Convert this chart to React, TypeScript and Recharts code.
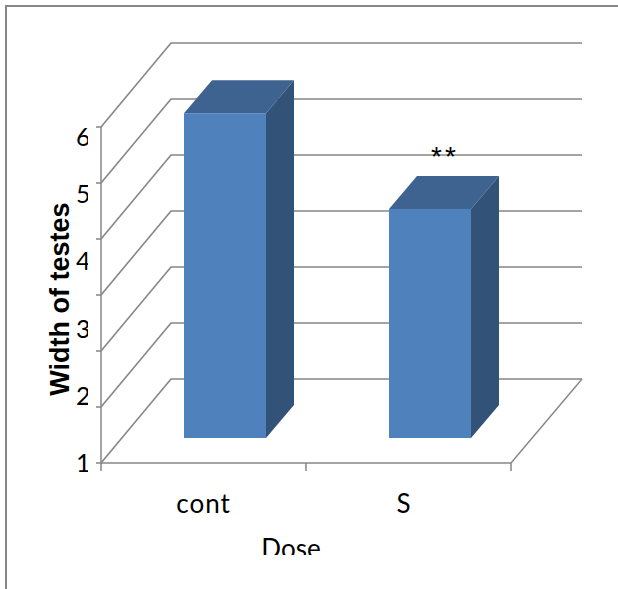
import { Bar, BarChart, CartesianGrid, LabelList, XAxis, YAxis } from "recharts"

// Dose groups and the values
const categories = ["cont", "S"]
const widthValues = [6.8, 5.09]
const marks = ["", "**"]

// ticks of the drawn axis, and the labels (which do not line up with the ticks in the source)
const gridTicks = [1, 2, 3, 4, 5, 6, 7]
const labelTicks = [1, 2, 3, 4, 5, 6]

const chartData = categories.map((dose, i) => ({ dose, width: widthValues[i], mark: marks[i] }))

const LINE = "#868686"
const FRONT = "#4f81bd"
const TOP = "#3f6390"
const SIDE = "#335277"
const FONT = "Lato, sans-serif"
const AXIS_BOTTOM = 463

// 3D look: wall depth, bar depth and how far the bar stands behind the front edge
const WALL_DX = 70
const WALL_DY = 84
const BAR_DX = 28
const BAR_DY = 33
const BAR_SHIFT_X = 21
const BAR_SHIFT_Y = 25

function WallLine(props: any) {
  const { x1, x2, y1 } = props
  const bx = x1 + WALL_DX
  const by = y1 - WALL_DY
  const isFloor = y1 > 460
  return (
    <g>
      <polyline
        points={`${x1},${y1} ${bx},${by} ${x2 + WALL_DX + 1},${by}`}
        fill="none"
        stroke={LINE}
        strokeWidth={1.6}
      />
      {isFloor && (
        <line x1={x2} y1={y1} x2={x2 + WALL_DX + 1} y2={by} stroke={LINE} strokeWidth={1.4} />
      )}
    </g>
  )
}

function Bar3D(props: any) {
  const { x, y, width, height } = props
  const fx = x + BAR_SHIFT_X
  const fy = y - BAR_SHIFT_Y
  const r = fx + width
  const b = fy + height
  return (
    <g>
      <polygon
        points={`${fx},${fy} ${fx + BAR_DX},${fy - BAR_DY} ${r + BAR_DX},${fy - BAR_DY} ${r},${fy}`}
        fill={TOP}
      />
      <polygon
        points={`${r},${fy} ${r + BAR_DX},${fy - BAR_DY} ${r + BAR_DX},${b - BAR_DY} ${r},${b}`}
        fill={SIDE}
      />
      <rect x={fx} y={fy} width={width} height={height} fill={FRONT} />
    </g>
  )
}

function DoseTick(props: any) {
  const { x, y, payload, index } = props
  const half = payload.offset ?? 102.5
  const nudge = index === 1 ? -5 : 0
  return (
    <g>
      {index === 0 && <line x1={x - half} y1={y - 8} x2={x - half} y2={y} stroke={LINE} strokeWidth={1.5} />}
      <line x1={x + half} y1={y - 8} x2={x + half} y2={y} stroke={LINE} strokeWidth={1.5} />
      <text
        x={x + nudge}
        y={513}
        textAnchor="middle"
        fontFamily={FONT}
        fontSize={26}
        letterSpacing={index === 0 ? 1 : 0}
        fill="#000"
      >
        {payload.value}
      </text>
    </g>
  )
}

// the labels sit on a 1-6 spread over the same height as the 1-7 ticks, as in the source
function ValueTick(props: any) {
  const { y, payload } = props
  if (!labelTicks.includes(payload.value)) return <g />
  const labelY = AXIS_BOTTOM - ((AXIS_BOTTOM - y) * 6) / 5
  const id = `value-clip-${payload.value}`
  return (
    <g>
      <clipPath id={id}>
        <rect x={70} y={100} width={18} height={400} />
      </clipPath>
      <text
        x={76}
        y={Math.max(labelY, 137) + 9}
        fontFamily={FONT}
        fontSize={25}
        fill="#000"
        clipPath={`url(#${id})`}
      >
        {payload.value}
      </text>
    </g>
  )
}

function DoseTitle() {
  return (
    <g>
      <clipPath id="dose-clip">
        <rect x={240} y={520} width={100} height={35} />
      </clipPath>
      <text x={291} y={558} textAnchor="middle" fontFamily={FONT} fontSize={26} fill="#000" clipPath="url(#dose-clip)">
        Dose
      </text>
    </g>
  )
}

function WidthTitle() {
  return (
    <text
      transform="translate(69,299) rotate(-90)"
      textAnchor="middle"
      fontFamily="'Liberation Sans', Arial, sans-serif"
      fontWeight="bold"
      fontSize={27}
      fill="#000"
    >
      Width of testes
    </text>
  )
}

function StarLabel(props: any) {
  const { x, y, value } = props
  if (!value) return null
  return (
    <text x={x + 77} y={y - 68} textAnchor="middle" fontFamily="'Liberation Sans', Arial, sans-serif" fontSize={28} letterSpacing={3} fill="#000">
      {value}
    </text>
  )
}

export default function App() {
  return (
    <div style={{ position: "absolute", left: 0, top: 0, width: 618, height: 589, background: "#fff", overflow: "hidden" }}>
      <div
        style={{
          position: "absolute",
          left: 5,
          top: 5,
          right: 0,
          bottom: 0,
          borderLeft: `2px solid ${LINE}`,
          borderTop: `2px solid ${LINE}`,
        }}
      />
      <div style={{ position: "absolute", left: 0, top: 0 }}>
        <BarChart
          width={618}
          height={589}
          data={chartData}
          margin={{ top: 127, right: 107, bottom: 0, left: 0 }}
          barSize={82}
        >
          <CartesianGrid vertical={false} horizontal={(p: any) => <WallLine key={p.key ?? p.y1} {...p} />} />
          <XAxis
            dataKey="dose"
            height={126}
            stroke={LINE}
            strokeWidth={1.5}
            tickLine={false}
            interval={0}
            tick={<DoseTick />}
            label={<DoseTitle />}
          />
          <YAxis
            type="number"
            domain={[1, 7]}
            ticks={gridTicks}
            interval={0}
            width={101}
            stroke={LINE}
            strokeWidth={1.5}
            tickSize={5}
            tick={<ValueTick />}
            label={<WidthTitle />}
          />
          <Bar dataKey="width" shape={<Bar3D />} isAnimationActive={false}>
            <LabelList dataKey="mark" content={<StarLabel />} />
          </Bar>
        </BarChart>
      </div>
    </div>
  )
}
